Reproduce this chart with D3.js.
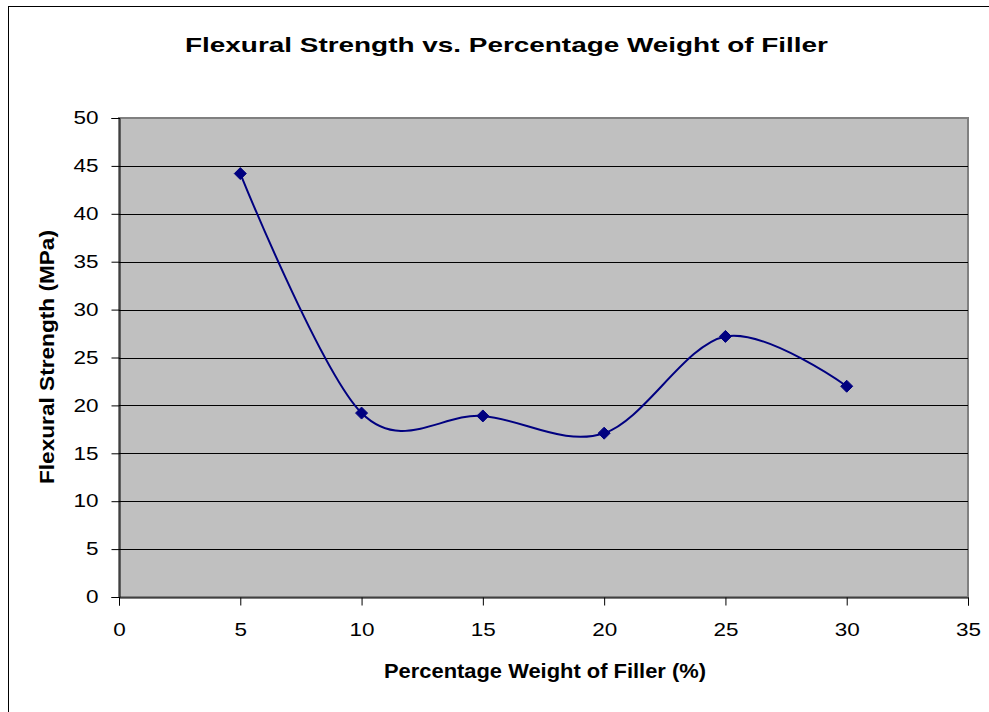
<!DOCTYPE html>
<html>
<head>
<meta charset="utf-8">
<script src="https://cdn.jsdelivr.net/npm/d3@7"></script>
<style>
  html, body { margin: 0; padding: 0; background: #fff; }
  svg { display: block; font-family: Arial, "Liberation Sans", sans-serif; }
</style>
</head>
<body>
<svg id="chart" width="989" height="712"></svg>
<script>
// Flexural strength measured at each filler loading
const fillerPct = [5, 10, 15, 20, 25, 30];
const strengthMPa = [44.2, 19.2, 18.9, 17.1, 27.2, 22.0];
const xTicks = [0, 5, 10, 15, 20, 25, 30, 35];
const yTicks = [0, 5, 10, 15, 20, 25, 30, 35, 40, 45, 50];

const svg = d3.select("#chart");
const plot = { left: 119, top: 118, right: 968, bottom: 597 };
const stretch = 1.25; // wide text rendering

// Outer chart frame
svg.append("rect")
  .attr("x", 8.5).attr("y", 6.5)
  .attr("width", 1000).attr("height", 800)
  .attr("fill", "#fff").attr("stroke", "#000").attr("stroke-width", 1);

const x = d3.scaleLinear().domain([0, 35]).range([plot.left, plot.right]);
const y = d3.scaleLinear().domain([0, 50]).range([plot.bottom, plot.top]);

// Plot area background with grey border
svg.append("rect")
  .attr("x", plot.left).attr("y", plot.top)
  .attr("width", plot.right - plot.left).attr("height", plot.bottom - plot.top)
  .attr("fill", "#c0c0c0").attr("stroke", "#808080").attr("stroke-width", 2);

// Horizontal gridlines
svg.append("g")
  .selectAll("line")
  .data(yTicks.filter(d => d > 0 && d < 50))
  .join("line")
  .attr("x1", plot.left).attr("x2", plot.right)
  .attr("y1", d => Math.round(y(d)) + 0.5).attr("y2", d => Math.round(y(d)) + 0.5)
  .attr("stroke", "#000").attr("stroke-width", 1);

// Y axis
const yAxis = svg.append("g")
  .attr("transform", `translate(${plot.left + 0.5},0)`)
  .call(d3.axisLeft(y).tickValues(yTicks).tickSize(8).tickPadding(13).tickFormat(d3.format("d")));
yAxis.select(".domain").attr("stroke", "#000");
yAxis.selectAll(".tick line").attr("stroke", "#000");
yAxis.selectAll("text")
  .attr("font-size", 18).attr("fill", "#000")
  .attr("font-family", "Arial, 'Liberation Sans', sans-serif")
  .attr("x", -21 / stretch)
  .attr("transform", `scale(${stretch},1)`);

// X axis
const xAxis = svg.append("g")
  .attr("transform", `translate(0,${plot.bottom + 0.5})`)
  .call(d3.axisBottom(x).tickValues(xTicks).tickSize(8).tickPadding(18).tickFormat(d3.format("d")));
xAxis.select(".domain").attr("stroke", "#000");
xAxis.selectAll(".tick line").attr("stroke", "#000");
xAxis.selectAll("text")
  .attr("font-size", 18).attr("fill", "#000")
  .attr("font-family", "Arial, 'Liberation Sans', sans-serif")
  .attr("transform", `scale(${stretch},1)`);

// Smoothed series line
const pts = fillerPct.map((v, i) => [v, strengthMPa[i]]);
const line = d3.line()
  .x(d => x(d[0])).y(d => y(d[1]))
  .curve(d3.curveCardinal.tension(0));
svg.append("path")
  .datum(pts)
  .attr("d", line)
  .attr("fill", "none")
  .attr("stroke", "#000080")
  .attr("stroke-width", 2);

// Diamond markers
svg.append("g")
  .selectAll("path")
  .data(pts)
  .join("path")
  .attr("transform", d => `translate(${x(d[0])},${y(d[1])})`)
  .attr("d", "M0,-6L6,0L0,6L-6,0Z")
  .attr("fill", "#000080")
  .attr("stroke", "#000080")
  .attr("stroke-width", 1);

// Title
svg.append("text")
  .attr("x", 185).attr("y", 52)
  .attr("font-size", 21).attr("font-weight", "bold")
  .attr("textLength", 643).attr("lengthAdjust", "spacingAndGlyphs")
  .text("Flexural Strength vs. Percentage Weight of Filler");

// Axis titles
svg.append("text")
  .attr("x", 384).attr("y", 678)
  .attr("font-size", 20).attr("font-weight", "bold")
  .attr("textLength", 322).attr("lengthAdjust", "spacingAndGlyphs")
  .text("Percentage Weight of Filler (%)");

svg.append("text")
  .attr("transform", "translate(54,484) rotate(-90)")
  .attr("font-size", 20).attr("font-weight", "bold")
  .attr("textLength", 254).attr("lengthAdjust", "spacingAndGlyphs")
  .text("Flexural Strength (MPa)");
</script>
</body>
</html>
